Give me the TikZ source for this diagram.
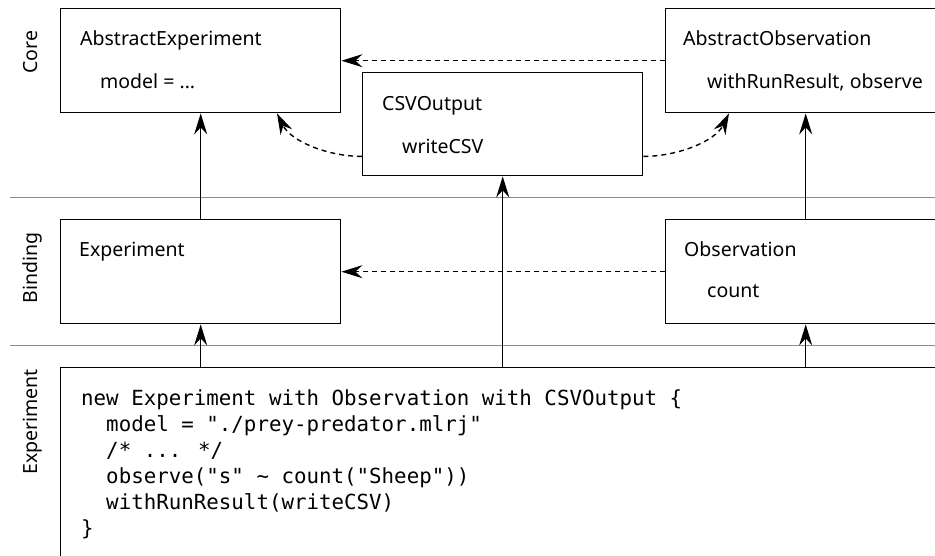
\documentclass[tikz,border=0pt]{standalone}
\usepackage{fontspec}
\setmainfont{Noto Sans}
\newfontfamily\codefont{DejaVu Sans Mono}
\usetikzlibrary{arrows.meta,calc}
\begin{document}
\begin{tikzpicture}[x=1pt,y=-1pt,
  box/.style={draw=black,line width=1.4pt,rectangle,inner sep=0pt,minimum width=280pt,minimum height=104pt,anchor=north west},
  txt/.style={anchor=base west,inner sep=0pt,font=\fontsize{19.5}{23}\selectfont},
  codeline/.style={anchor=base west,inner sep=0pt,font=\codefont\fontsize{20.8}{26}\selectfont},
  layer/.style={anchor=base,inner sep=0pt,rotate=90,font=\fontsize{19.5}{23}\selectfont},
  sep/.style={draw=black!45,line width=1pt},
  arr/.style={-{Stealth[length=21pt,width=13pt,inset=7pt]},line width=1.4pt},
  dasharr/.style={arr,dash pattern=on 5pt off 4pt}]
\path[use as bounding box] (0,0) rectangle (935,555);
\clip (0,0) rectangle (935,555);
\fill[white] (0,0) rectangle (935,555);

% layer separators
\coordinate (s1a) at (10,197); \coordinate (s1b) at (940,197);
\coordinate (s2a) at (10,345); \coordinate (s2b) at (940,345);
\draw[sep] (s1a) -- (s1b);
\draw[sep] (s2a) -- (s2b);

% layer labels
\node[layer] (lcore) at (37,52) {Core};
\node[layer] (lbind) at (37,268) {Binding};
\node[layer] (lexp) at (37,422) {Experiment};

% boxes
\node[box] (ae) at (60,8) {};
\node[box,minimum height=103pt] (csv) at (362,72) {};
\node[box] (ao) at (665,8) {};
\node[box] (exp) at (60,219) {};
\node[box] (obs) at (665,219) {};
\node[box,minimum width=900pt,minimum height=220pt] (code) at (60,367) {};

% box texts
\node[txt] (aet) at ($(ae.north west)+(20,37)$) {AbstractExperiment};
\node[txt] (aes) at ($(ae.north west)+(40,80)$) {model = ...};
\node[txt] (csvt) at ($(csv.north west)+(20,38)$) {CSVOutput};
\node[txt] (csvs) at ($(csv.north west)+(40,81)$) {writeCSV};
\node[txt] (aot) at ($(ao.north west)+(18,37)$) {AbstractObservation};
\node[txt] (aos) at ($(ao.north west)+(42,80)$) {withRunResult, observe};
\node[txt] (expt) at ($(exp.north west)+(19,37)$) {Experiment};
\node[txt] (obst) at ($(obs.north west)+(19,37)$) {Observation};
\node[txt] (obss) at ($(obs.north west)+(42,78)$) {count};

% code
\node[codeline] (c1) at (81,405) {new Experiment with Observation with CSVOutput \{};
\node[codeline] (c2) at (81,431) {\phantom{xx}model = "./prey-predator.mlrj"};
\node[codeline] (c3) at (81,457) {\phantom{xx}/* ... */};
\node[codeline] (c4) at (81,483) {\phantom{xx}observe("s" \textasciitilde{} count("Sheep"))};
\node[codeline] (c5) at (81,509) {\phantom{xx}withRunResult(writeCSV)};
\node[codeline] (c6) at (81,535) {\}};

% solid arrows
\draw[arr] (exp.north) -- (ae.south);
\draw[arr] (code.north -| exp.south) -- (exp.south);
\draw[arr] (code.north -| csv.south) -- (csv.south);
\draw[arr] (obs.north) -- (ao.south);
\draw[arr] (code.north -| obs.south) -- (obs.south);

% dashed arrows
\draw[dasharr] (ao.west) -- (ae.east);
\draw[dasharr] (obs.west) -- (exp.east);
\coordinate (csvL) at ($(csv.south west)+(0,-20)$);
\coordinate (csvR) at ($(csv.south east)+(0,-20)$);
\coordinate (aeT) at ($(ae.south west)+(217,0)$);
\coordinate (aoT) at ($(ao.south west)+(64,0)$);
\draw[dasharr] (csvL) .. controls +(-34,0) and +(14,28) .. (aeT);
\draw[dasharr] (csvR) .. controls +(34,0) and +(-14,28) .. (aoT);
\end{tikzpicture}
\end{document}
